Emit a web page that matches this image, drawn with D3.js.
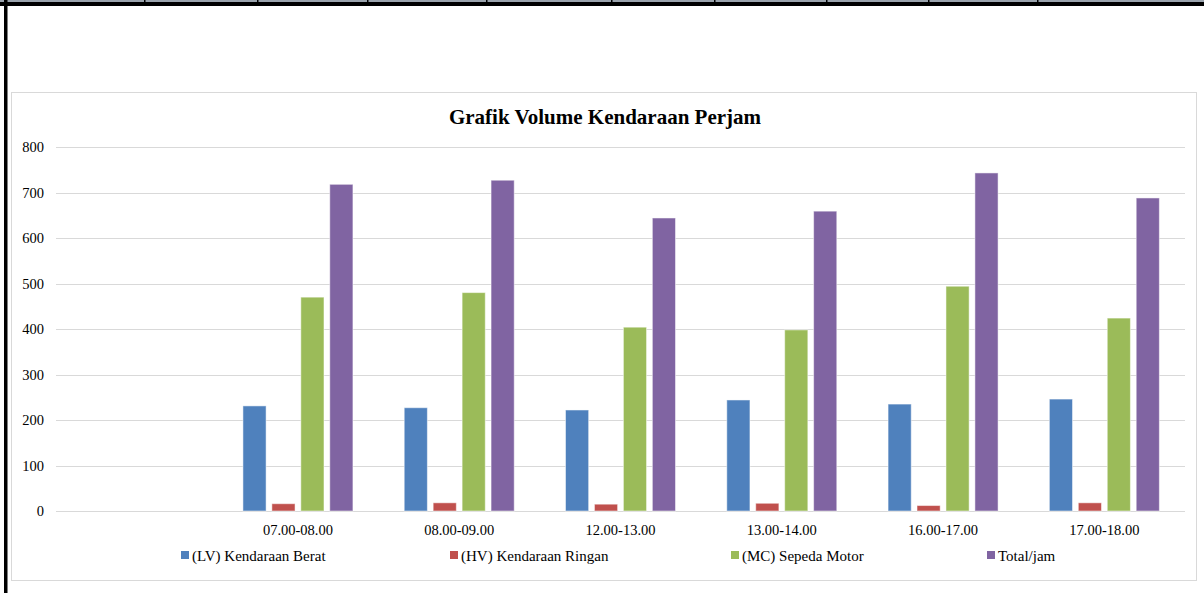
<!DOCTYPE html>
<html>
<head>
<meta charset="utf-8">
<script src="https://cdn.jsdelivr.net/npm/d3@7"></script>
<style>
  body { margin: 0; background: #fff; }
  svg { display: block; font-family: "Liberation Serif", "Times New Roman", serif; }
</style>
</head>
<body>
<svg id="chart"></svg>
<script>
// data
var categories = ["", "07.00-08.00", "08.00-09.00", "12.00-13.00", "13.00-14.00", "16.00-17.00", "17.00-18.00"];
var seriesNames = ["(LV) Kendaraan Berat", "(HV) Kendaraan Ringan", "(MC) Sepeda Motor", "Total/jam"];
var lvValues = [null, 231, 227, 222, 244, 235, 246];
var hvValues = [null, 16, 18, 15, 17, 12, 18];
var mcValues = [null, 470, 480, 404, 398, 494, 424];
var totalValues = [null, 718, 727, 644, 659, 743, 688];
var yTicks = [0, 100, 200, 300, 400, 500, 600, 700, 800];
var colors = ["#4F81BD", "#C0504D", "#9BBB59", "#8064A2"];
var topTicks = [145, 258, 368, 487, 612, 715, 827, 929, 1038];

var width = 1204, height = 593;
var svg = d3.select("#chart").attr("width", width).attr("height", height);

// outer frame (part of the page the chart was pasted into)
svg.append("rect").attr("x", 0).attr("y", 0).attr("width", width).attr("height", 2).attr("fill", "#9aa3ad");
svg.append("rect").attr("x", 0).attr("y", 2).attr("width", width).attr("height", 4).attr("fill", "#000");
svg.selectAll(".ttick").data(topTicks).enter().append("rect")
    .attr("x", d => d - 1).attr("y", 0).attr("width", 1.5).attr("height", 3).attr("fill", "#000");
svg.append("rect").attr("x", 4).attr("y", 0).attr("width", 3.5).attr("height", height).attr("fill", "#000");

// chart box
svg.append("rect").attr("x", 11.5).attr("y", 92.5).attr("width", 1185).attr("height", 488)
    .attr("fill", "#fff").attr("stroke", "#d9d9d9").attr("stroke-width", 1);

svg.append("text").attr("x", 605).attr("y", 124).attr("text-anchor", "middle")
    .attr("font-size", 21).attr("font-weight", "bold").attr("fill", "#000")
    .text("Grafik Volume Kendaraan Perjam");

var plotLeft = 56, plotRight = 1185;
var y = d3.scaleLinear().domain([0, 800]).range([511, 147]);
var x0 = d3.scaleBand().domain(categories).range([plotLeft, plotRight]).padding(0);
var groupW = 110;
var x1 = d3.scaleBand().domain(seriesNames).range([0, groupW]).paddingInner(0.2).paddingOuter(0);

// gridlines
svg.selectAll(".grid").data(yTicks).enter().append("line")
    .attr("x1", plotLeft).attr("x2", plotRight)
    .attr("y1", d => Math.round(y(d)) + 0.5).attr("y2", d => Math.round(y(d)) + 0.5)
    .attr("stroke", "#d9d9d9").attr("stroke-width", 1);

// y labels
svg.selectAll(".ylab").data(yTicks).enter().append("text")
    .attr("x", 44).attr("y", d => y(d) + 5)
    .attr("text-anchor", "end").attr("font-size", 14.5).attr("fill", "#000")
    .text(d => d);

// bars
var allSeries = [lvValues, hvValues, mcValues, totalValues];
allSeries.forEach(function(vals, si) {
    svg.selectAll(".bar" + si)
        .data(categories.map((c, i) => ({ cat: c, v: vals[i] })).filter(d => d.v != null))
        .enter().append("rect")
        .attr("x", d => x0(d.cat) + (x0.bandwidth() - groupW) / 2 + x1(seriesNames[si]))
        .attr("y", d => y(d.v))
        .attr("width", x1.bandwidth())
        .attr("height", d => y(0) - y(d.v))
        .attr("fill", colors[si])
        .attr("stroke", "#fff").attr("stroke-opacity", 0.5).attr("stroke-width", 1);
});

// x labels
svg.selectAll(".xlab").data(categories).enter().append("text")
    .attr("x", d => x0(d) + x0.bandwidth() / 2).attr("y", 535)
    .attr("text-anchor", "middle").attr("font-size", 14.5).attr("fill", "#000")
    .text(d => d);

// legend
var legendX = [181, 450, 731, 987];
var legend = svg.selectAll(".leg").data(seriesNames).enter().append("g")
    .attr("transform", (d, i) => "translate(" + legendX[i] + ",551)");
legend.append("rect").attr("width", 8).attr("height", 8).attr("fill", (d, i) => colors[i]);
legend.append("text").attr("x", 11).attr("y", 9.5).attr("font-size", 15).attr("fill", "#000").text(d => d);
</script>
</body>
</html>
